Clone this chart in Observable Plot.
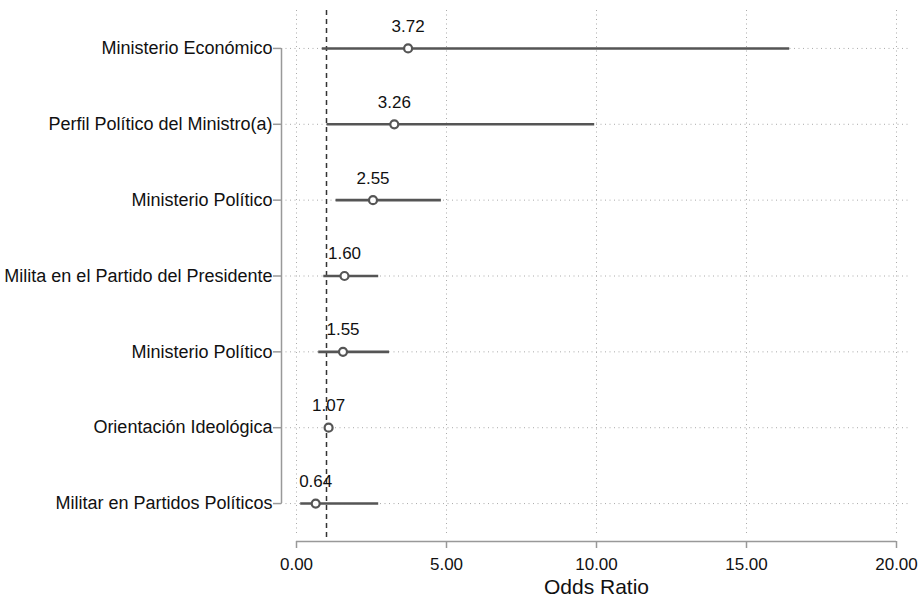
<!DOCTYPE html>
<html>
<head>
<meta charset="utf-8">
<script src="https://cdn.jsdelivr.net/npm/d3@7"></script>
<script src="https://cdn.jsdelivr.net/npm/@observablehq/plot@0.6"></script>
<style>
  html, body { margin: 0; padding: 0; background: #fff; }
  #chart svg { display: block; }
</style>
</head>
<body>
<div id="chart"></div>
<script>
// Categories (top to bottom)
const labels = [
  "Ministerio Económico",
  "Perfil Político del Ministro(a)",
  "Ministerio Político",
  "Milita en el Partido del Presidente",
  "Ministerio Político",
  "Orientación Ideológica",
  "Militar en Partidos Políticos"
];
// Odds ratios and confidence intervals
const oddsRatio = [3.72, 3.26, 2.55, 1.60, 1.55, 1.07, 0.64];
const ciLow     = [0.86, 1.02, 1.32, 0.91, 0.74, 1.00, 0.14];
const ciHigh    = [16.44, 9.94, 4.83, 2.74, 3.10, 1.13, 2.74];
const valueText = ["3.72", "3.26", "2.55", "1.60", "1.55", "1.07", "0.64"];
// Axis ticks
const xTicks = [0, 5, 10, 15, 20];
const xTickLabels = ["0.00", "5.00", "10.00", "15.00", "20.00"];
const refLine = [1];

const rows = labels.map((label, i) => ({
  i, label, or: oddsRatio[i], lo: ciLow[i], hi: ciHigh[i], txt: valueText[i]
}));
const idx = rows.map(d => d.i);

const FONT = "'Liberation Sans', Arial, Helvetica, sans-serif";
const lineColor = "#555";
const axisColor = "#999";
const gridColor = "#aaa";

const chart = Plot.plot({
  width: 922,
  height: 599,
  marginLeft: 281,
  marginRight: 11,
  marginTop: 10,
  marginBottom: 58,
  style: { fontFamily: FONT, color: "#222", background: "#fff" },
  x: { domain: [-0.5, 20.5] },
  y: { domain: [-0.5, 6.5], reverse: true },
  marks: [
    // vertical dotted gridlines
    Plot.ruleX(xTicks, { y1: -0.5, y2: 6.43, stroke: gridColor, strokeDasharray: "1,3.5", strokeWidth: 1 }),
    // horizontal dotted gridlines
    Plot.ruleY(idx, { x1: -0.5, x2: 20.47, stroke: gridColor, strokeDasharray: "1,3.5", strokeWidth: 1 }),
    // reference line at OR = 1
    Plot.ruleX(refLine, { y1: -0.5, y2: 6.5, stroke: "#333", strokeDasharray: "5,4", strokeWidth: 1.5 }),
    // y axis line
    Plot.ruleX([-0.5], { y1: 0, y2: labels.length - 1, stroke: axisColor, strokeWidth: 1.5 }),
    // x axis line
    Plot.ruleY([6.5], { x1: xTicks[0], x2: xTicks[xTicks.length - 1], stroke: axisColor, strokeWidth: 1.5 }),
    Plot.axisY(idx, {
      tickFormat: i => labels[i],
      tickSize: 8,
      tickPadding: 1,
      fontSize: 18,
      stroke: axisColor,
      strokeWidth: 1.5,
      fill: "#111",
      label: null
    }),
    Plot.axisX(xTicks, {
      tickFormat: d => xTickLabels[xTicks.indexOf(d)],
      tickSize: 7,
      tickPadding: 9,
      fontSize: 17,
      stroke: axisColor,
      strokeWidth: 1.5,
      fill: "#111",
      label: null
    }),
    // confidence intervals
    Plot.ruleY(rows, { y: "i", x1: "lo", x2: "hi", stroke: lineColor, strokeWidth: 2.6 }),
    // point estimates
    Plot.dot(rows, { x: "or", y: "i", r: 4, stroke: lineColor, strokeWidth: 2.2, fill: "#fff" }),
    // value labels
    Plot.text(rows, { x: "or", y: "i", text: "txt", dy: -22, fontSize: 17, fill: "#111" }),
    // x axis title
    Plot.text(["Odds Ratio"], { frameAnchor: "bottom", dy: 46, fontSize: 21, fill: "#111", lineAnchor: "middle" })
  ]
});
document.getElementById("chart").appendChild(chart);
</script>
</body>
</html>
